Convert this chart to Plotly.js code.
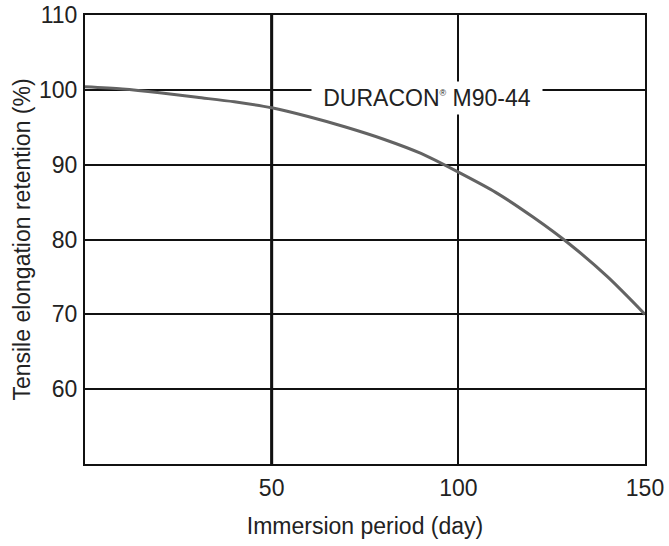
<!DOCTYPE html>
<html lang="en">
<head>
    <meta charset="UTF-8">
    <title>Tensile elongation retention</title>
    <script src="https://cdn.plot.ly/plotly-3.0.1.min.js"></script>
    <style>
        html, body { margin: 0; padding: 0; background: #fff; }
        #graph { width: 669px; height: 546px; }
    </style>
</head>
<body>
    <div id="graph"></div>
    <script>
        // immersion period (day) vs. retention (%)
        var days = [0, 10, 20, 30, 40, 50, 60, 70, 80, 90, 100, 110, 120, 130, 140, 150];
        var retention = [100.4, 100.1, 99.6, 99.0, 98.4, 97.6, 96.4, 95.0, 93.4, 91.5, 89.0, 86.3, 83.0, 79.3, 75.0, 70.0];
        var seriesName = 'DURACON<sup><span style="font-size:9px">®</span></sup> M90-44';

        var xTicks = [50, 100, 150];
        var yTicks = [60, 70, 80, 90, 100, 110];

        var trace = {
            x: days,
            y: retention,
            type: 'scatter',
            mode: 'lines',
            line: { color: '#636363', width: 3, shape: 'spline', smoothing: 0.8 },
            hoverinfo: 'skip'
        };

        var font = { family: 'Liberation Sans, Arial, sans-serif', size: 23, color: '#222' };

        var layout = {
            width: 669,
            height: 546,
            margin: { l: 85, r: 24, t: 15, b: 82 },
            paper_bgcolor: '#fff',
            plot_bgcolor: '#fff',
            showlegend: false,
            font: font,
            xaxis: {
                range: [0, 150],
                tickvals: xTicks,
                ticks: '',
                showgrid: true,
                gridcolor: '#111',
                gridwidth: 2,
                zeroline: false,
                showline: true,
                linecolor: '#111',
                linewidth: 2,
                mirror: true,
                ticklabelstandoff: 2,
                title: { text: 'Immersion period (day)', font: { size: 23 }, standoff: 18 }
            },
            yaxis: {
                range: [50, 110],
                tickvals: yTicks,
                ticks: '',
                showgrid: true,
                gridcolor: '#111',
                gridwidth: 2,
                zeroline: false,
                showline: true,
                linecolor: '#111',
                linewidth: 2,
                mirror: true,
                ticklabelstandoff: 1,
                title: { text: 'Tensile elongation retention (%)', font: { size: 23 }, standoff: 2 }
            },
            shapes: [{
                type: 'line', xref: 'x', yref: 'paper',
                x0: 50, x1: 50, y0: 0, y1: 1,
                line: { color: '#000', width: 3 },
                layer: 'below'
            }],
            annotations: [{
                x: 91.6, y: 98.9, xref: 'x', yref: 'y',
                text: seriesName,
                showarrow: false,
                bgcolor: '#fff',
                width: 222,
                height: 24,
                borderpad: 4,
                font: { size: 23, color: '#222' }
            }]
        };

        Plotly.newPlot('graph', [trace], layout, { displayModeBar: false, staticPlot: true });
    </script>
</body>
</html>
